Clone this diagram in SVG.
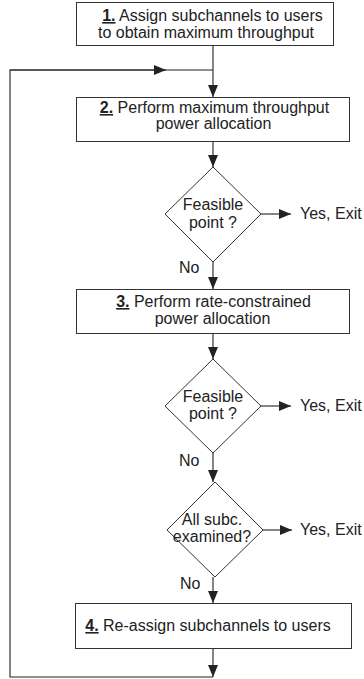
<svg xmlns="http://www.w3.org/2000/svg" width="364" height="679" viewBox="0 0 364 679">
<defs>
<style>
.box{fill:#fff;stroke:#333;stroke-width:1}
.ln{fill:none;stroke:#222;stroke-width:1.1}
.t{font-family:"Liberation Sans",Arial,sans-serif;font-size:16px;fill:#222;text-anchor:middle}
.l{font-family:"Liberation Sans",Arial,sans-serif;font-size:16px;fill:#222}
.n{text-decoration:underline;font-weight:bold}
</style>
<marker id="ah" markerUnits="userSpaceOnUse" markerWidth="12" markerHeight="10" refX="12" refY="5" orient="auto" viewBox="0 0 12 10">
<path d="M0,0 L12,5 L0,10 z" fill="#222"/>
</marker>
</defs>
<rect width="364" height="679" fill="#fff"/>
<g id="connectors">
<path class="ln" d="M213,45 V97" marker-end="url(#ah)"/>
<path class="ln" d="M213,142 V167" marker-end="url(#ah)"/>
<path class="ln" d="M213,262 V289" marker-end="url(#ah)"/>
<path class="ln" d="M213,334 V359" marker-end="url(#ah)"/>
<path class="ln" d="M213,453 V482" marker-end="url(#ah)"/>
<path class="ln" d="M213,577 V603" marker-end="url(#ah)"/>
<path class="ln" d="M213,649 V677" marker-end="url(#ah)"/>
<path class="ln" d="M213,677 H10 V70 H213"/>
<path class="ln" d="M10,70 H166" marker-end="url(#ah)"/>
<path class="ln" d="M261,214 H291" marker-end="url(#ah)"/>
<path class="ln" d="M261,406 H291" marker-end="url(#ah)"/>
<path class="ln" d="M263,530 H292" marker-end="url(#ah)"/>
</g>
<g id="n1">
<rect class="box" x="76.5" y="2.5" width="257" height="43"/>
<text class="t" x="212.5" y="21"><tspan class="n">1.</tspan> Assign subchannels to users</text>
<text class="t" x="206" y="37.5">to obtain maximum throughput</text>
</g>
<g id="n2">
<rect class="box" x="76.5" y="97.5" width="273" height="44"/>
<text class="t" x="214.5" y="113"><tspan class="n">2.</tspan> Perform maximum throughput</text>
<text class="t" x="213.5" y="129">power allocation</text>
</g>
<g id="d1">
<polygon class="box" points="213,167 261,214 213,262 165,214"/>
<text class="t" x="213" y="210">Feasible</text>
<text class="t" x="213" y="228">point ?</text>
<text class="l" x="300" y="219">Yes, Exit</text>
<text class="l" x="179" y="273">No</text>
</g>
<g id="n3">
<rect class="box" x="76.5" y="289.5" width="273" height="44"/>
<text class="t" x="213.5" y="307"><tspan class="n">3.</tspan> Perform rate-constrained</text>
<text class="t" x="212.5" y="324">power allocation</text>
</g>
<g id="d2">
<polygon class="box" points="213,359 261,406 213,453 165,406"/>
<text class="t" x="213" y="402">Feasible</text>
<text class="t" x="213" y="419">point ?</text>
<text class="l" x="300" y="411">Yes, Exit</text>
<text class="l" x="179" y="466">No</text>
</g>
<g id="d3">
<polygon class="box" points="215,482 263,530 215,577 167,530"/>
<text class="t" x="212" y="525">All subc.</text>
<text class="t" x="212" y="542">examined?</text>
<text class="l" x="300" y="535">Yes, Exit</text>
<text class="l" x="180" y="589">No</text>
</g>
<g id="n4">
<rect class="box" x="75.5" y="603.5" width="276" height="45"/>
<text class="t" x="208" y="631"><tspan class="n">4.</tspan> Re-assign subchannels to users</text>
</g>
</svg>
